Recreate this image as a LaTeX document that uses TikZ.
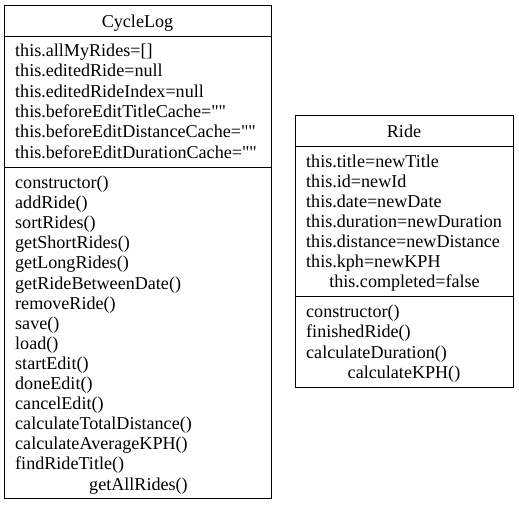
\documentclass[tikz,border=0pt]{standalone}
\usepackage{fontspec}
\setmainfont{Liberation Serif}[Ligatures=TeXOff]
\begin{document}
\begin{tikzpicture}[x=1pt,y=-1pt,
  box/.style={draw=black,line width=0.9pt},
  txt/.style={inner sep=0pt,font=\fontsize{18.1}{20}\selectfont},
  ltxt/.style={txt,anchor=base west},
  ctxt/.style={txt,anchor=base}]
\useasboundingbox (0,0) rectangle (519,504);
% CycleLog class
\node[box,minimum width=267pt,minimum height=493pt,inner sep=0pt,anchor=north west] (cycle) at (4,5) {};
\draw[box] (4,36) -- (271,36);
\draw[box] (4,167) -- (271,167);
\node[ctxt] (cycletitle) at (137.5,27) {CycleLog};
\foreach \t [count=\i from 0] in {this.allMyRides={[]},this.editedRide=null,this.editedRideIndex=null,
  this.beforeEditTitleCache="",this.beforeEditDistanceCache="",this.beforeEditDurationCache=""}
  \node[ltxt] (ca\i) at (15,{56.5+20.3*\i}) {\t};
\foreach \t [count=\i from 0] in {constructor(),addRide(),sortRides(),getShortRides(),getLongRides(),
  getRideBetweenDate(),removeRide(),save(),load(),startEdit(),doneEdit(),cancelEdit(),
  calculateTotalDistance(),calculateAverageKPH(),findRideTitle()}
  \node[ltxt] (cm\i) at (15,{188.5+20.1*\i}) {\t};
\node[ctxt] (cm15) at (138.5,{188.5+20.1*15}) {getAllRides()};
% Ride class
\node[box,minimum width=218pt,minimum height=272pt,inner sep=0pt,anchor=north west] (ride) at (295,115) {};
\draw[box] (295,146.5) -- (513,146.5);
\draw[box] (295,296.5) -- (513,296.5);
\node[ctxt] (ridetitle) at (404,137) {Ride};
\foreach \t [count=\i from 0] in {this.title=newTitle,this.id=newId,this.date=newDate,
  this.duration=newDuration,this.distance=newDistance,this.kph=newKPH}
  \node[ltxt] (ra\i) at (306,{167.5+20*\i}) {\t};
\node[ctxt] (ra6) at (404.5,287.5) {this.completed=false};
\foreach \t [count=\i from 0] in {constructor(),finishedRide(),calculateDuration()}
  \node[ltxt] (rm\i) at (306,{317.5+20.3*\i}) {\t};
\node[ctxt] (rm3) at (404,378.5) {calculateKPH()};
\end{tikzpicture}
\end{document}
